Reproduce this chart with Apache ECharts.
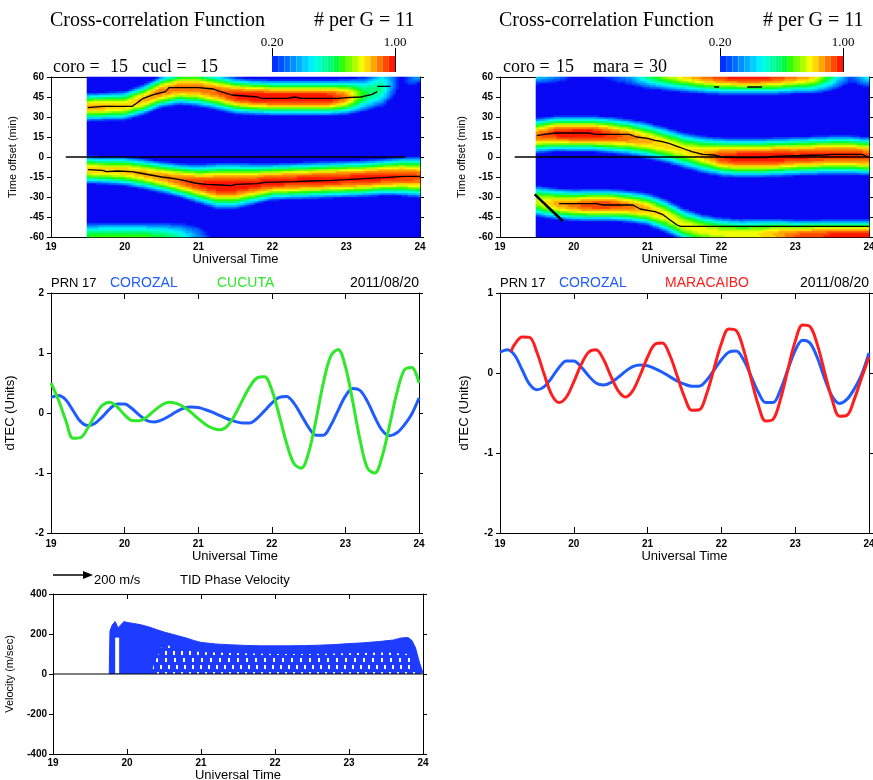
<!DOCTYPE html>
<html><head><meta charset="utf-8">
<script src="https://cdn.jsdelivr.net/npm/echarts@6/dist/echarts.min.js"></script>
<style>html,body{margin:0;padding:0;background:#fff}#c{width:873px;height:780px}</style>
</head><body><div id="c"></div>
<script>
// ================= DATA =================
// Cross-correlation ridges, sampled every 0.25 h (UT)
const ridgeTimes = [19.5,19.75,20,20.25,20.5,20.75,21,21.25,21.5,21.75,22,22.25,22.5,22.75,23,23.25,23.5,23.75,24];

// coro x cucl : upper ridge
const ccA_center = [37.5,38,38.5,43,49,52,51.5,49,46,45,44.5,44.5,44.5,44.5,45,47,52,58,66];
const ccA_peak   = [0.85,0.85,0.82,0.85,0.9,0.9,0.9,0.92,0.97,1.0,1.0,1.0,1.0,1.0,0.9,0.62,0.55,0.15,0.45];
const ccA_width  = [12.5,12.5,13,13.5,14,15,16,16,16,15.5,15.5,15.5,15.5,15.5,15.5,16,18,16,14];
// coro x cucl : lower ridge
const ccB_center = [-9.5,-10,-10.5,-12.5,-15,-17.5,-20,-21.5,-21.5,-20,-18.5,-18,-17.5,-17,-16.5,-16,-15,-14.5,-15];
const ccB_peak   = [0.82,0.82,0.84,0.85,0.88,0.92,0.96,1.0,1.0,0.98,0.98,0.98,0.98,0.98,0.98,0.98,0.98,0.96,0.93];
const ccB_width  = [12.5,12.5,13,13.5,14,15,17,20,20,18,16,16,16,16,16,16,16,17,18];
// coro x cucl : bottom ridge
const ccC_center = [-62,-62,-62,-62,-62,-62,-62,-62,-62,-62,-62,-62,-62,-62,-62,-62,-62,-62,-62];
const ccC_peak   = [0.66,0.68,0.68,0.68,0.64,0.55,0.35,0.1,0,0,0,0,0,0,0,0,0,0,0];
const ccC_width  = [16,16,16,16,16,16,16,16,16,16,16,16,16,16,16,16,16,16,16];

// coro x mara : top ridge
const cmD_center = [68,68,68,68,67,66,65,64,63,62,61.5,61.5,61.5,61.5,62,62,63,66,66];
const cmD_peak   = [0.6,0.45,0.25,0.2,0.3,0.42,0.65,0.78,0.86,0.92,0.97,1.0,1.0,0.97,0.92,0.85,0.6,0.3,0.6];
const cmD_width  = [17,17,17,17,17,17,17,17,17,17,17,17,17,17,17,17,17,17,17];
// coro x mara : middle ridge
const cmE_center = [16,17.5,17.5,17.5,16.5,15,12.5,9,5,2,0,-0.5,-0.5,0,0.5,1,1.5,1.5,0.5];
const cmE_peak   = [0.9,0.97,1.0,1.0,0.95,0.9,0.85,0.82,0.8,0.85,0.95,1.0,1.0,1.0,0.97,0.97,0.97,0.97,0.95];
const cmE_width  = [15.5,15.5,15.5,15.5,16,16,16,16,16,16.5,17,17,17,17,17,17,17,17,17];
// coro x mara : lower ridge
const cmF_center = [-33,-35,-36,-36,-36,-37,-39,-44,-51,-55,-57,-58,-58,-58,-59,-59,-59,-59,-59];
const cmF_peak   = [0.75,0.85,0.9,0.95,0.95,0.9,0.85,0.8,0.78,0.78,0.78,0.78,0.8,0.85,0.92,0.95,0.97,0.97,0.97];
const cmF_width  = [14,14,14,14,14,14,14.5,15,15,14.5,14,14,14,14,14,14,14,14,14];

// Black maximum tracks [UT, lag]
const ccTrackA = [[19.5,37],[19.7,38],[20.1,38],[20.15,40],[20.25,44],[20.4,47],[20.55,49],[20.6,52],[21.0,52],[21.2,51],[21.3,49],[21.45,46.5],[21.8,45],[21.85,44],[22.2,44],[22.3,45],[22.4,44],[22.9,44],[23.0,44.5],[23.2,45],[23.35,47],[23.42,49]];
const ccTrackA2 = [[23.42,53],[23.6,53]];
const ccTrackB = [[19.5,-9.5],[19.7,-10],[19.75,-11],[19.9,-10.5],[20.1,-11],[20.2,-12],[20.35,-13.5],[20.5,-15],[20.65,-16],[20.8,-17.5],[20.95,-19.5],[21.1,-20.5],[21.3,-21],[21.45,-21.5],[21.5,-20.5],[21.8,-20],[21.9,-19],[22.3,-18.5],[22.5,-18],[22.8,-17.5],[23.0,-17],[23.3,-16],[23.5,-15.5],[23.8,-14.5],[24.0,-14.5]];
const ccZero = [[19.2,0],[23.8,0]];
const cmTrackE = [[19.5,16],[19.6,17],[19.75,18],[20.2,18],[20.3,17],[20.75,17],[20.85,15],[21.0,14],[21.1,12.5],[21.2,11.5],[21.3,10],[21.4,8],[21.5,6],[21.6,4],[21.75,2],[21.9,1.5],[22.0,0],[22.2,-0.5],[22.6,-0.5],[22.7,0.5],[23.0,1],[23.4,1.5],[23.5,2],[23.9,2],[24.0,0]];
const cmTrackF = [[19.8,-35],[20.3,-35],[20.4,-36],[20.8,-36],[20.9,-39],[21.0,-40],[21.1,-41],[21.2,-43],[21.3,-47],[21.4,-51],[21.45,-52],[24.0,-52]];
const cmTrackDiag = [[19.47,-28],[19.85,-48]];
const cmTrackD1 = [[21.9,52.5],[21.97,52.5]];
const cmTrackD2 = [[22.35,52.5],[22.55,52.5]];
const cmZero = [[19.2,0],[24,0]];

// dTEC series
const utTimes = [19.0,19.1,19.2,19.3,19.4,19.5,19.6,19.7,19.8,19.9,20.0,20.1,20.2,20.3,20.4,20.5,20.6,20.7,20.8,20.9,21.0,21.1,21.2,21.3,21.4,21.5,21.6,21.7,21.8,21.9,22.0,22.1,22.2,22.3,22.4,22.5,22.6,22.7,22.8,22.9,23.0,23.1,23.2,23.3,23.4,23.5,23.6,23.7,23.8,23.9,24.0];
const corozal = [0.26,0.29,0.22,0.04,-0.14,-0.21,-0.17,-0.06,0.07,0.15,0.15,0.075,-0.035,-0.125,-0.15,-0.12,-0.055,0.02,0.08,0.1,0.09,0.055,0.01,-0.045,-0.1,-0.14,-0.165,-0.165,-0.09,0.035,0.165,0.26,0.275,0.165,-0.035,-0.24,-0.37,-0.37,-0.21,0.04,0.28,0.41,0.375,0.19,-0.07,-0.29,-0.38,-0.33,-0.2,-0.02,0.25];
const cucuta = [0.5,0.22,-0.12,-0.42,-0.41,-0.25,-0.04,0.13,0.18,0.1,-0.03,-0.125,-0.13,-0.07,0.035,0.13,0.18,0.16,0.105,0.015,-0.095,-0.19,-0.255,-0.28,-0.21,-0.03,0.21,0.435,0.585,0.605,0.385,-0.035,-0.5,-0.84,-0.92,-0.66,-0.12,0.5,0.945,1.06,0.775,0.19,-0.455,-0.92,-1.0,-0.72,-0.205,0.34,0.715,0.76,0.5];
const maraTimes = [19.15,19.2,19.3,19.4,19.5,19.6,19.7,19.8,19.9,20.0,20.1,20.2,20.3,20.4,20.5,20.6,20.7,20.8,20.9,21.0,21.1,21.2,21.3,21.4,21.5,21.6,21.7,21.8,21.9,22.0,22.1,22.2,22.3,22.4,22.5,22.6,22.7,22.8,22.9,23.0,23.1,23.2,23.3,23.4,23.5,23.6,23.7,23.8,23.9,24.0];
const maracaibo = [0.27,0.36,0.45,0.445,0.26,-0.02,-0.27,-0.37,-0.3,-0.11,0.105,0.26,0.29,0.175,-0.035,-0.22,-0.3,-0.22,-0.025,0.2,0.36,0.375,0.225,-0.035,-0.3,-0.465,-0.46,-0.26,0.055,0.37,0.55,0.53,0.295,-0.06,-0.4,-0.6,-0.58,-0.33,0.04,0.395,0.6,0.58,0.355,0.005,-0.33,-0.54,-0.53,-0.33,-0.06,0.2];

// TID phase velocity envelope (m/sec)
const velTimes = [19.76,19.77,19.80,19.84,19.88,19.92,19.96,20.0,20.1,20.2,20.3,20.4,20.5,20.6,20.7,20.8,20.9,21.0,21.2,21.4,21.6,21.8,22.0,22.2,22.4,22.6,22.8,23.0,23.2,23.4,23.6,23.7,23.8,23.85,23.9,23.95,24.0];
const velTop   = [0,215,245,262,230,248,262,258,252,245,235,222,210,200,190,180,168,158,150,146,143,141,141,141,142,144,147,152,156,162,170,180,182,168,130,60,5];
// upper edge of the region where the vectors leave gaps
const velTexTimes = [20.33,20.36,20.47,20.54,20.72,21.0,21.4,22.0,22.5,23.0,23.5,23.8,23.9];
const velTexTop   = [0,45,135,145,120,110,105,100,100,104,108,100,0];
const velGapTimes = [19.867,19.867];
const velGapVals  = [3,182];
const velZero = [[19,0],[24,0]];

// axis ranges / ticks
const utRange = [19,24,1];
const lagRange = [-60,60,15];
const tecRangeL = [-2,2,1];
const tecRangeR = [-2,1,1];
const velRange = [-400,400,200];
const cbarLabels = ['0.20','1.00'];

// ================= STYLE / BUILD =================
const jet = ['#0030ff','#0050ff','#0070ff','#0090ff','#00b0ff','#00d0ff','#00f0ff','#00ffd8','#00ffa8','#00ff78','#00ff38','#30ff00','#70ff00','#b0ff00','#f0ff00','#ffd800','#ffa800','#ff7800','#ff4800','#ff1800'];
const bgBlue = '#0808f4';
const SANS = '"Liberation Sans", Arial, sans-serif';
const SERIF = '"Liberation Serif", "Times New Roman", serif';
const tickFont = {fontFamily:SANS, fontSize:10, fontWeight:'bold', color:'#000'};

// heat-map cell grid (123 x 80 cells -> 3 px x 2 px cells)
const NX = 123, NY = 80;
const xCats = []; for (let i=0;i<NX;i++) xCats.push(+(19 + (i+0.5)*5/NX).toFixed(4));
const yCats = []; for (let j=0;j<NY;j++) yCats.push(-60 + (j+0.5)*120/NY);

function lerp(ts, vs, t){
  if (t<=ts[0]) return vs[0];
  for (let k=1;k<ts.length;k++){ if (t<=ts[k]) { const f=(t-ts[k-1])/(ts[k]-ts[k-1]); return vs[k-1]+f*(vs[k]-vs[k-1]); } }
  return vs[vs.length-1];
}
function field(ridges){
  const out=[];
  xCats.forEach((t,i)=>{
    if (t < ridgeTimes[0]) return;
    yCats.forEach((lag,j)=>{
      let v=0;
      ridges.forEach(r=>{
        const c=lerp(ridgeTimes,r.c,t), p=lerp(ridgeTimes,r.p,t), w=lerp(ridgeTimes,r.w,t);
        const d=Math.abs(lag-c);
        if (d<w) v=Math.max(v, p*Math.cos(Math.PI/2*d/w));
      });
      out.push([i,j,Math.min(1,+v.toFixed(3))]);
    });
  });
  return out;
}
const fieldL = field([{c:ccA_center,p:ccA_peak,w:ccA_width},{c:ccB_center,p:ccB_peak,w:ccB_width},{c:ccC_center,p:ccC_peak,w:ccC_width}]);
const fieldR = field([{c:cmD_center,p:cmD_peak,w:cmD_width},{c:cmE_center,p:cmE_peak,w:cmE_width},{c:cmF_center,p:cmF_peak,w:cmF_width}]);

const grids = [
  {left:51, top:77, width:369, height:160},
  {left:500, top:77, width:369, height:160},
  {left:51, top:293, width:368, height:240},
  {left:500, top:293, width:369, height:240},
  {left:53, top:594, width:370, height:160}
];
const xAxes=[], yAxes=[];
function addValueAxes(g, xr, yr, cfg){
  const line = {show:true, onZero:false, lineStyle:{color:'#000', width:1}};
  const bx = xAxes.length;
  xAxes.push({type:'value', gridIndex:g, min:xr[0], max:xr[1], interval:xr[2], position:'bottom',
    axisLine:line, axisTick:{show:true, inside:true, length:cfg.xTick, lineStyle:{color:'#000'}},
    axisLabel:Object.assign({margin:cfg.xMargin}, tickFont), splitLine:{show:false},
    name:'Universal Time', nameLocation:'middle', nameGap:cfg.xNameGap,
    nameTextStyle:{fontFamily:SANS, fontSize:13, color:'#000'}});
  xAxes.push({type:'value', gridIndex:g, min:xr[0], max:xr[1], interval:xr[2], position:'top',
    axisLine:line, axisTick:{show:true, inside:true, length:cfg.xTick, lineStyle:{color:'#000'}},
    axisLabel:{show:false}, splitLine:{show:false}});
  const by = yAxes.length;
  yAxes.push({type:'value', gridIndex:g, min:yr[0], max:yr[1], interval:yr[2], position:'left',
    axisLine:line, axisTick:{show:true, inside:false, length:4, lineStyle:{color:'#000'}},
    axisLabel:Object.assign({margin:cfg.yMargin}, tickFont), splitLine:{show:false},
    name:cfg.yName, nameLocation:'middle', nameGap:cfg.yNameGap,
    nameTextStyle:{fontFamily:SANS, fontSize:cfg.yNameSize, color:'#000'}});
  yAxes.push({type:'value', gridIndex:g, min:yr[0], max:yr[1], interval:yr[2], position:'right',
    axisLine:line, axisTick:{show:true, inside:false, length:4, lineStyle:{color:'#000'}},
    axisLabel:{show:false}, splitLine:{show:false}});
  return {x:bx, y:by};
}
function addCatAxes(g){
  const cx = xAxes.length; xAxes.push({type:'category', gridIndex:g, data:xCats, show:false, boundaryGap:true});
  const cy = yAxes.length; yAxes.push({type:'category', gridIndex:g, data:yCats, show:false, boundaryGap:true});
  return {x:cx, y:cy};
}
const hmCfg = {xTick:4, xMargin:5, xNameGap:13, yMargin:7, yName:'Time offset (min)', yNameGap:33, yNameSize:11};
const a0 = addValueAxes(0, utRange, lagRange, hmCfg);
const c0 = addCatAxes(0);
const a1 = addValueAxes(1, utRange, lagRange, hmCfg);
const c1 = addCatAxes(1);
const a2 = addValueAxes(2, utRange, tecRangeL, {xTick:6, xMargin:6, xNameGap:15, yMargin:7, yName:'dTEC (Units)', yNameGap:34, yNameSize:13});
const a3 = addValueAxes(3, utRange, tecRangeR, {xTick:6, xMargin:6, xNameGap:15, yMargin:7, yName:'dTEC (Units)', yNameGap:29, yNameSize:13});
const a4 = addValueAxes(4, utRange, velRange, {xTick:5, xMargin:4, xNameGap:15, yMargin:6, yName:'Velocity (m/sec)', yNameGap:38, yNameSize:11});

const zip = (ts, vs) => ts.map((t,i)=>[t, vs[i]]);
function blackLine(ax, data, w){
  return {type:'line', xAxisIndex:ax.x, yAxisIndex:ax.y, data, symbol:'none', silent:true, z:5,
    lineStyle:{color:'#000', width:w||1.3}};
}
const series = [];
const hmL = series.length;
series.push({type:'heatmap', xAxisIndex:c0.x, yAxisIndex:c0.y, data:fieldL, progressive:0, silent:true, emphasis:{disabled:true}});
series.push(blackLine(a0, ccTrackA), blackLine(a0, ccTrackA2), blackLine(a0, ccTrackB), blackLine(a0, ccZero, 1.4));
const hmR = series.length;
series.push({type:'heatmap', xAxisIndex:c1.x, yAxisIndex:c1.y, data:fieldR, progressive:0, silent:true, emphasis:{disabled:true}});
series.push(blackLine(a1, cmTrackE), blackLine(a1, cmTrackF), blackLine(a1, cmTrackDiag, 2.5),
  blackLine(a1, cmTrackD1), blackLine(a1, cmTrackD2), blackLine(a1, cmZero, 1.4));
const curve = (ax, data, color) => ({type:'line', xAxisIndex:ax.x, yAxisIndex:ax.y, data, smooth:0.35, symbol:'none',
  lineStyle:{color, width:3}, z:3});
series.push(curve(a2, zip(utTimes, corozal), '#1f5cff'), curve(a2, zip(utTimes, cucuta), '#2ee82a'));
series.push(curve(a3, zip(utTimes, corozal), '#1f5cff'), curve(a3, zip(maraTimes, maracaibo), '#ff1e1e'));
const velBlue = '#1e3cff';
series.push({type:'line', xAxisIndex:a4.x, yAxisIndex:a4.y, data:zip(velTimes, velTop), symbol:'none',
  lineStyle:{color:velBlue, width:1}, areaStyle:{color:velBlue, opacity:1}, z:3});
series.push({type:'line', xAxisIndex:a4.x, yAxisIndex:a4.y, data:zip(velTexTimes, velTexTop), symbol:'none',
  lineStyle:{width:0, opacity:0}, itemStyle:{color:velBlue, decal:{symbol:'rect', color:'#ffffff', symbolSize:1,
    dashArrayX:[[1.5,5.5],[0,4.6,1.5,0.9],[0,2.3,1.5,3.2]], dashArrayY:[4,3], rotation:0}},
  areaStyle:{color:velBlue, opacity:1}, z:4});
series.push({type:'line', xAxisIndex:a4.x, yAxisIndex:a4.y, data:zip(velGapTimes, velGapVals), symbol:'none',
  lineStyle:{color:'#ffffff', width:4}, z:5});
series.push(blackLine(a4, velZero, 1.2));

const pieces = jet.map((col,k)=>({gte:+(0.2+0.04*k).toFixed(2), lt:+(0.2+0.04*(k+1)).toFixed(2), color:col}));
pieces[pieces.length-1] = {gte:0.96, lte:1.001, color:jet[jet.length-1]};
const vm = (si, left) => ({type:'piecewise', seriesIndex:si, dimension:2, pieces, outOfRange:{color:bgBlue},
  orient:'horizontal', left, top:56, itemWidth:6.15, itemHeight:16, itemGap:0, itemSymbol:'rect',
  showLabel:false, padding:0, selectedMode:false, hoverLink:false});

const txt = (text, x, y, font, fill, align) => ({type:'text', silent:true, style:{text, x, y, font, fill:fill||'#000', align:align||'left', verticalAlign:'middle'}});
const graphic = [
  txt('Cross-correlation Function', 50, 21, '20px '+SERIF),
  txt('# per G = 11', 314, 21, '20px '+SERIF),
  txt('Cross-correlation Function', 499, 21, '20px '+SERIF),
  txt('# per G = 11', 763, 21, '20px '+SERIF),
  txt(cbarLabels[0], 272, 43, '13px '+SERIF, '#000', 'center'),
  txt(cbarLabels[1], 395, 43, '13px '+SERIF, '#000', 'center'),
  txt(cbarLabels[0], 720, 43, '13px '+SERIF, '#000', 'center'),
  txt(cbarLabels[1], 843, 43, '13px '+SERIF, '#000', 'center'),
  {type:'line', silent:true, shape:{x1:272.5,y1:48,x2:272.5,y2:72}, style:{stroke:'#000', lineWidth:1}},
  {type:'line', silent:true, shape:{x1:395.5,y1:48,x2:395.5,y2:72}, style:{stroke:'#000', lineWidth:1}},
  {type:'line', silent:true, shape:{x1:720.5,y1:48,x2:720.5,y2:72}, style:{stroke:'#000', lineWidth:1}},
  {type:'line', silent:true, shape:{x1:843.5,y1:48,x2:843.5,y2:72}, style:{stroke:'#000', lineWidth:1}},
  txt('coro =', 53, 67, '18px '+SERIF), txt('15', 110, 67, '18px '+SERIF),
  txt('cucl =', 142, 67, '18px '+SERIF), txt('15', 200, 67, '18px '+SERIF),
  txt('coro =', 503, 67, '18px '+SERIF), txt('15', 556, 67, '18px '+SERIF),
  txt('mara =', 593, 67, '18px '+SERIF), txt('30', 649, 67, '18px '+SERIF),
  txt('PRN 17', 51, 283, '13px '+SANS), txt('COROZAL', 110, 283, '14px '+SANS, '#1f5cff'),
  txt('CUCUTA', 217, 283, '14px '+SANS, '#2ee82a'), txt('2011/08/20', 419, 283, '14px '+SANS, '#000', 'right'),
  txt('PRN 17', 500, 283, '13px '+SANS), txt('COROZAL', 559, 283, '14px '+SANS, '#1f5cff'),
  txt('MARACAIBO', 665, 283, '14px '+SANS, '#ff1e1e'), txt('2011/08/20', 869, 283, '14px '+SANS, '#000', 'right'),
  {type:'line', silent:true, shape:{x1:53,y1:575,x2:85,y2:575}, style:{stroke:'#000', lineWidth:1.5}},
  {type:'polygon', silent:true, shape:{points:[[83,571],[93,575],[83,579]]}, style:{fill:'#000'}},
  txt('200 m/s', 94, 580, '13px '+SANS), txt('TID Phase Velocity', 180, 580, '13px '+SANS)
];

const option = {
  animation:false,
  backgroundColor:'#ffffff',
  grid: grids.map(g=>Object.assign({show:false, outerBoundsMode:'none'}, g)),
  xAxis: xAxes, yAxis: yAxes,
  visualMap: [vm(hmL, 272), vm(hmR, 720)],
  series, graphic
};
const chart = echarts.init(document.getElementById('c'));
chart.setOption(option);
</script></body></html>
